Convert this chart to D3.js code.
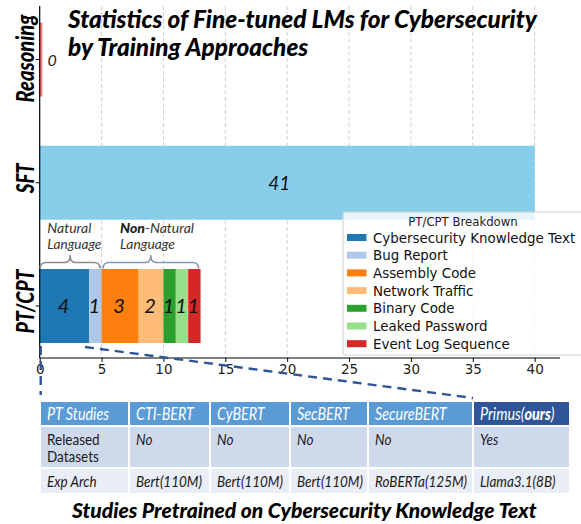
<!DOCTYPE html>
<html lang="en">
<head>
<meta charset="utf-8">
<title>Fine-tuned LMs for Cybersecurity</title>
<script src="https://cdn.jsdelivr.net/npm/d3@7"></script>
<style>
  body { margin: 0; background: #fff; }
</style>
</head>
<body>
<script>
// ---- data ----
const categories = ["Reasoning", "SFT", "PT/CPT"];
const barLengths = [0, 40];          // drawn length of the plain bars
const barLabels = ["0", "41"];       // number printed on them
const barColors = ["#f07575", "#87ceeb"];

const ptTypes = ["Cybersecurity Knowledge Text", "Bug Report", "Assembly Code",
  "Network Traffic", "Binary Code", "Leaked Password", "Event Log Sequence"];
const ptCounts = [4, 1, 3, 2, 1, 1, 1];
const ptColors = ["#1f77b4", "#aec7e8", "#ff7f0e", "#ffbb78", "#2ca02c", "#98df8a", "#d62728"];

const xTicks = [0, 5, 10, 15, 20, 25, 30, 35, 40];

const tableHeader = ["PT Studies", "CTI-BERT", "CyBERT", "SecBERT", "SecureBERT", "Primus(ours)"];
const releasedRow = ["Released Datasets", "No", "No", "No", "No", "Yes"];
const archRow = ["Exp Arch", "Bert(110M)", "Bert(110M)", "Bert(110M)", "RoBERTa(125M)", "Llama3.1(8B)"];

// ---- setup ----
const width = 581, height = 524;
const cal = "Lato, 'Open Sans', sans-serif";
const mpl = "'DejaVu Sans', sans-serif";

const svg = d3.select("body").append("svg")
  .attr("width", width).attr("height", height);

// scale a text's font size so it spans the given width
function fit(sel, w) {
  const fs = parseFloat(sel.attr("font-size"));
  const len = sel.node().getComputedTextLength();
  sel.attr("font-size", fs * w / len);
  return fs * w / len;
}

// narrow text: keep a larger glyph height and squeeze it horizontally
function squeeze(sel, tx, ty, w, rot = 0) {
  const len = sel.node().getComputedTextLength();
  sel.attr("x", 0).attr("y", 0)
    .attr("transform", `translate(${tx},${ty}) rotate(${rot}) scale(${w / len},1)`);
}

const x = d3.scaleLinear().domain([0, 42.05]).range([39.7, 560]);
const y = d3.scalePoint().domain(categories).range([59.5, 306]);
const barH = 74;
const plotTop = 6, plotBottom = 358;

// grid
svg.append("g").selectAll("line")
  .data(xTicks.slice(1))
  .join("line")
  .attr("x1", d => x(d)).attr("x2", d => x(d))
  .attr("y1", plotTop).attr("y2", plotBottom)
  .attr("stroke", "#c4c4c4").attr("stroke-width", 0.8)
  .attr("stroke-dasharray", "4,2.5");

// plain bars
const plain = categories.slice(0, 2).map((c, i) => ({ cat: c, v: barLengths[i], label: barLabels[i], color: barColors[i] }));
svg.append("g").selectAll("rect")
  .data(plain)
  .join("rect")
  .attr("x", x(0))
  .attr("y", d => y(d.cat) - barH / 2)
  .attr("width", d => Math.max(x(d.v) - x(0), 2.6))
  .attr("height", barH)
  .attr("fill", d => d.color);

// stacked PT/CPT bar
let acc = 0;
const segs = ptCounts.map((v, i) => {
  const s = { x0: acc, x1: acc + v, v, color: ptColors[i] };
  acc += v;
  return s;
});
svg.append("g").selectAll("rect")
  .data(segs)
  .join("rect")
  .attr("x", d => x(d.x0))
  .attr("y", y("PT/CPT") - barH / 2)
  .attr("width", d => x(d.x1) - x(d.x0))
  .attr("height", barH)
  .attr("fill", d => d.color);

// value labels
svg.append("text")
  .attr("x", x(0) + 12.5).attr("y", y("Reasoning") + 6.5)
  .attr("text-anchor", "middle")
  .attr("font-family", cal).attr("font-style", "italic")
  .attr("font-size", 16).attr("fill", "#222")
  .text(barLabels[0]);
svg.append("text")
  .attr("x", x(barLengths[1] / 2) - 8).attr("y", y("SFT") + 7)
  .attr("text-anchor", "middle")
  .attr("font-family", cal).attr("font-style", "italic")
  .attr("font-size", 19).attr("fill", "#111")
  .text(barLabels[1]);
svg.append("g").selectAll("text")
  .data(segs)
  .join("text")
  .attr("x", d => x((d.x0 + d.x1) / 2) - 1)
  .attr("y", y("PT/CPT") + 7)
  .attr("text-anchor", "middle")
  .attr("font-family", cal).attr("font-style", "italic")
  .attr("font-size", 20).attr("fill", "#111")
  .text(d => d.v);

// spines
svg.append("line")
  .attr("x1", x(0)).attr("x2", x(0)).attr("y1", plotTop).attr("y2", plotBottom)
  .attr("stroke", "#000").attr("stroke-width", 1.2);
svg.append("line")
  .attr("x1", x(0)).attr("x2", x.range()[1]).attr("y1", plotBottom).attr("y2", plotBottom)
  .attr("stroke", "#000").attr("stroke-width", 1.2);

// x axis
const xAxis = svg.append("g")
  .attr("transform", `translate(0,${plotBottom})`)
  .call(d3.axisBottom(x).tickValues(xTicks).tickSize(4).tickPadding(2.5));
xAxis.select(".domain").remove();
xAxis.selectAll("text").attr("font-family", mpl).attr("font-size", 13.5).attr("fill", "#222");

// y tick marks and labels
svg.append("g").selectAll("line")
  .data(categories)
  .join("line")
  .attr("x1", x(0) - 4).attr("x2", x(0))
  .attr("y1", d => y(d)).attr("y2", d => y(d))
  .attr("stroke", "#000");
const catW = { "Reasoning": 88, "SFT": 30, "PT/CPT": 64 };
const catShift = { "Reasoning": -1, "SFT": -4.5, "PT/CPT": -4.5 };
categories.forEach(c => {
  const t = svg.append("text")
    .attr("text-anchor", "middle")
    .attr("font-family", cal).attr("font-style", "italic").attr("font-weight", "900")
    .attr("font-size", 24).attr("fill", "#000")
    .text(c);
  squeeze(t, 33.5, y(c) + catShift[c], catW[c], -90);
});

// title
const t1 = svg.append("text")
  .attr("x", 68).attr("y", 28)
  .attr("font-family", cal).attr("font-style", "italic").attr("font-weight", "900")
  .attr("font-size", 24).attr("fill", "#000")
  .text("Statistics of Fine-tuned LMs for Cybersecurity");
const tfs = fit(t1, 469);
svg.append("text")
  .attr("x", 68).attr("y", 56)
  .attr("font-family", cal).attr("font-style", "italic").attr("font-weight", "900")
  .attr("font-size", tfs).attr("fill", "#000")
  .text("by Training Approaches");

// braces over the stacked bar
function brace(xa, xb) {
  const m = (xa + xb) / 2, yl = 262.5, ye = 268.5, yp = 255;
  return `M${xa},${ye} Q${xa},${yl} ${xa + 6},${yl} L${m - 5},${yl} Q${m},${yl} ${m},${yp}` +
    ` Q${m},${yl} ${m + 5},${yl} L${xb - 6},${yl} Q${xb},${yl} ${xb},${ye}`;
}
svg.append("path")
  .attr("d", brace(x(0) + 0.5, x(ptCounts[0] + ptCounts[1]) - 1.5))
  .attr("fill", "none").attr("stroke", "#8a8a8a").attr("stroke-width", 1.5);
svg.append("path")
  .attr("d", brace(x(ptCounts[0] + ptCounts[1]) + 1.5, x(d3.sum(ptCounts)) - 2))
  .attr("fill", "none").attr("stroke", "#8595b5").attr("stroke-width", 1.5);

const bl = svg.append("g")
  .attr("font-family", cal).attr("font-style", "italic")
  .attr("fill", "#333");
[["Natural", 47.3, 233, 44], ["Language", 47.3, 248.5, 54], ["Language", 120, 248.5, 55]]
  .forEach(([s, tx, ty, w]) => {
    squeeze(bl.append("text").attr("font-size", 13.2).text(s), tx, ty, w);
  });
const nn = bl.append("text").attr("font-size", 13.2);
nn.append("tspan").attr("font-weight", "900").attr("fill", "#222").text("Non");
nn.append("tspan").text("-Natural");
squeeze(nn, 120, 233, 74);

// legend
const lg = svg.append("g");
lg.append("rect")
  .attr("x", 343).attr("y", 212).attr("width", 250).attr("height", 143)
  .attr("rx", 2)
  .attr("fill", "#fff").attr("fill-opacity", 0.8)
  .attr("stroke", "#d0d0d0").attr("stroke-width", 1);
lg.append("text")
  .attr("x", 463).attr("y", 225.5)
  .attr("text-anchor", "middle")
  .attr("font-family", mpl).attr("font-size", 11.7).attr("fill", "#222")
  .text("PT/CPT Breakdown");
const items = lg.selectAll("g.item")
  .data(ptTypes)
  .join("g")
  .attr("class", "item")
  .attr("transform", (d, i) => `translate(347,${237.5 + i * 17.7})`);
items.append("rect")
  .attr("x", 0).attr("y", -3.5).attr("width", 19.5).attr("height", 7)
  .attr("fill", (d, i) => ptColors[i]);
items.append("text")
  .attr("x", 26).attr("y", 5)
  .attr("font-family", mpl).attr("font-size", 13.4).attr("fill", "#111")
  .text(d => d);

// dashed zoom lines to the table
const tableX = [40, 129, 210, 290, 368, 473, 570];
const rowY = [401, 426, 468, 494];
svg.append("line")
  .attr("x1", x(0) + 1).attr("x2", x(0) + 1)
  .attr("y1", 346).attr("y2", 395)
  .attr("stroke", "#2f5597").attr("stroke-width", 2.4)
  .attr("stroke-dasharray", "9,6");
svg.append("line")
  .attr("x1", 85).attr("y1", 347)
  .attr("x2", tableX[5]).attr("y2", 398)
  .attr("stroke", "#2f5597").attr("stroke-width", 2.4)
  .attr("stroke-dasharray", "9,6");

// table
const rows = [tableHeader, releasedRow, archRow];
const rowFill = ["#5b9bd5", "#cfd9ec", "#e9edf5"];
const tb = svg.append("g");
rows.forEach((row, r) => {
  row.forEach((cell, c) => {
    tb.append("rect")
      .attr("x", tableX[c]).attr("y", rowY[r])
      .attr("width", tableX[c + 1] - tableX[c]).attr("height", rowY[r + 1] - rowY[r])
      .attr("fill", r === 0 && c === 5 ? "#2f5597" : rowFill[r])
      .attr("stroke", "#fff").attr("stroke-width", 2);
  });
});
// one horizontal squeeze for the whole table, taken from a reference cell width
const bodySize = 16, headSize = 17;
const probe = tb.append("text").attr("font-family", cal).attr("font-style", "italic")
  .attr("font-size", bodySize).text(archRow[1]);
const sx = 66 / probe.node().getComputedTextLength();
probe.remove();
function cellText(tx, ty, fs) {
  return tb.append("text")
    .attr("transform", `translate(${tx},${ty}) scale(${sx},1)`)
    .attr("font-family", cal).attr("font-size", fs);
}
// header
tableHeader.forEach((cell, c) => {
  const t = cellText(tableX[c] + 7, 420, headSize).attr("font-style", "italic").attr("fill", "#fff");
  const m = cell.match(/^(.*\()(ours)(\))$/);
  if (m) {
    t.append("tspan").text(m[1]);
    t.append("tspan").attr("font-weight", "900").text(m[2]);
    t.append("tspan").text(m[3]);
  } else t.text(cell);
});
// released row
releasedRow.forEach((cell, c) => {
  const t = cellText(tableX[c] + 7, 444.5, bodySize).attr("fill", "#1a1a1a")
    .attr("font-style", c === 0 ? "normal" : "italic");
  if (c === 0) {
    const w = cell.split(" ");
    t.append("tspan").attr("x", 0).text(w[0]);
    t.append("tspan").attr("x", 0).attr("dy", 17.5).text(w[1]);
  } else t.text(cell);
});
// arch row
archRow.forEach((cell, c) => {
  cellText(tableX[c] + 7, 486.5, bodySize).attr("font-style", "italic").attr("fill", "#1a1a1a").text(cell);
});

// caption
const cap = svg.append("text")
  .attr("x", 72).attr("y", 518)
  .attr("font-family", cal).attr("font-style", "italic").attr("font-weight", "900")
  .attr("font-size", 21).attr("fill", "#000")
  .text("Studies Pretrained on Cybersecurity Knowledge Text");
fit(cap, 465);
</script>
</body>
</html>
